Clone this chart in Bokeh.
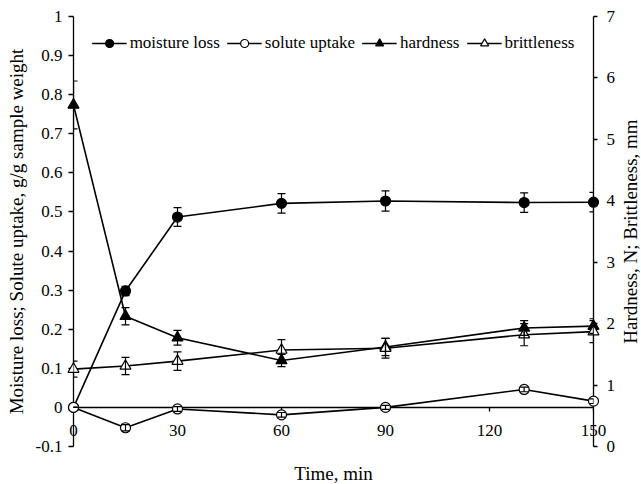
import math
from bokeh.plotting import figure
from bokeh.models import (Range1d, LinearAxis, FixedTicker, CustomJSTickFormatter, Legend,
                          LegendItem, Whisker, TeeHead, ColumnDataSource)
from bokeh.core.properties import value
from bokeh.embed import file_html
from bokeh.resources import INLINE

# ---- data ----
time_min = [0, 15, 30, 60, 90, 130, 150]
moisture_loss = [0.0, 0.298, 0.487, 0.522, 0.528, 0.524, 0.525]
moisture_err = [0.0, 0.012, 0.024, 0.025, 0.026, 0.025, 0.025]
solute_uptake = [0.0, -0.052, -0.004, -0.019, 0.0, 0.046, 0.016]
solute_err = [0.0, 0.008, 0.006, 0.006, 0.005, 0.006, 0.006]
hardness = [5.56, 2.12, 1.77, 1.40, 1.62, 1.93, 1.96]
hardness_err = [0.39, 0.14, 0.12, 0.10, 0.14, 0.12, 0.12]
brittleness = [1.26, 1.31, 1.39, 1.57, 1.60, 1.82, 1.87]
brittleness_err = [0.13, 0.14, 0.15, 0.17, 0.16, 0.18, 0.18]

x_ticks = [0, 30, 60, 90, 120, 150]
left_ticks = [-0.1, 0.0, 0.1, 0.2, 0.3, 0.4, 0.5, 0.6, 0.7, 0.8, 0.9, 1.0]
right_ticks = [0, 1, 2, 3, 4, 5, 6, 7]

x_label = "Time, min"
left_label = "Moisture loss; Solute uptake, g/g sample weight"
right_label = "Hardness, N; Brittleness, mm"

FONT = "Liberation Serif"
X_MIN, X_MAX = 0, 150
Y_MIN, Y_MAX = -0.1, 1.0
R_MIN, R_MAX = 0, 7

p = figure(frame_width=520, frame_height=430,
           x_range=Range1d(X_MIN, X_MAX), y_range=Range1d(Y_MIN, Y_MAX),
           output_backend="svg", toolbar_location=None,
           min_border_left=73, min_border_right=48,
           min_border_top=16, min_border_bottom=38)
p.extra_y_ranges = {"right": Range1d(R_MIN, R_MAX)}
p.outline_line_color = None
p.xgrid.visible = False
p.ygrid.visible = False
p.background_fill_color = "white"
p.border_fill_color = "white"


def style_axis(ax, tick_out):
    ax.axis_line_color = "black"
    ax.axis_line_width = 1.3
    ax.major_tick_line_color = "black"
    ax.major_tick_line_width = 1.3
    ax.major_tick_out = tick_out
    ax.major_tick_in = 0
    ax.minor_tick_out = 0
    ax.minor_tick_in = 0
    ax.major_label_text_font = FONT
    ax.major_label_text_font_size = "17px"
    ax.major_label_text_color = "black"
    ax.axis_label_text_font = FONT
    ax.axis_label_text_font_size = "19px"
    ax.axis_label_text_font_style = "normal"
    ax.axis_label_text_color = "black"


# bottom axis: only tick labels (pulled up) and the axis title
xa = p.xaxis[0]
style_axis(xa, 0)
xa.ticker = FixedTicker(ticks=x_ticks)
xa.axis_line_color = None
xa.major_tick_line_color = None
xa.major_label_standoff = -22
xa.axis_label = x_label
xa.axis_label_standoff = 24

# axis line with ticks crossing at y = 0
x0 = LinearAxis(fixed_location=0)
style_axis(x0, 4)
x0.ticker = FixedTicker(ticks=x_ticks)
x0.major_label_text_color = None
p.add_layout(x0, "below")

ya = p.yaxis[0]
style_axis(ya, 5)
ya.ticker = FixedTicker(ticks=left_ticks)
ya.formatter = CustomJSTickFormatter(code="return (Math.round(tick*10)/10).toString();")
ya.major_label_standoff = 6
ya.axis_label = left_label
ya.axis_label_standoff = 6

ra = LinearAxis(y_range_name="right")
style_axis(ra, 4)
ra.ticker = FixedTicker(ticks=right_ticks)
ra.major_label_standoff = 9
p.add_layout(ra, "right")

# right axis title, reading bottom-to-top as in the reference
p.text(x=[X_MAX], y=[(Y_MIN + Y_MAX) / 2], text=[right_label], x_offset=37,
       angle=math.pi / 2, text_align="center", text_baseline="middle",
       text_font=value(FONT), text_font_size="19px", text_color="black", level="overlay")

LW = 1.6


def series(y, err, marker, size, fill, range_name):
    kw = {} if range_name is None else {"y_range_name": range_name}
    ln = p.line(time_min, y, line_color="black", line_width=LW, **kw)
    sc = p.scatter(time_min, y, marker=marker, size=size, fill_color=fill,
                   line_color="black", line_width=1.2, level="overlay", **kw)
    src = ColumnDataSource(dict(x=time_min,
                                upper=[v + e for v, e in zip(y, err)],
                                lower=[v - e for v, e in zip(y, err)]))
    wk = Whisker(base="x", upper="upper", lower="lower", source=src, dimension="height",
                 line_color="black", line_width=1.2, level="overlay",
                 upper_head=TeeHead(size=8, line_color="black", line_width=1.2),
                 lower_head=TeeHead(size=8, line_color="black", line_width=1.2), **kw)
    p.add_layout(wk)
    return ln, sc


r1 = series(moisture_loss, moisture_err, "circle", 10, "black", None)
r2 = series(solute_uptake, solute_err, "circle", 10, "white", None)
r3 = series(hardness, hardness_err, "triangle", 11, "black", "right")
r4 = series(brittleness, brittleness_err, "triangle", 11, "white", "right")

legend = Legend(items=[LegendItem(label="moisture loss", renderers=list(r1)),
                       LegendItem(label="solute uptake", renderers=list(r2)),
                       LegendItem(label="hardness", renderers=list(r3)),
                       LegendItem(label="brittleness", renderers=list(r4))],
                orientation="horizontal", location="top_center",
                margin=17, padding=7, spacing=7, label_standoff=3,
                glyph_width=35, glyph_height=20,
                label_text_font=FONT, label_text_font_size="17px", label_text_color="black",
                background_fill_alpha=0, border_line_color=None)
p.add_layout(legend)

open("out.html", "w").write(file_html(p, INLINE))
